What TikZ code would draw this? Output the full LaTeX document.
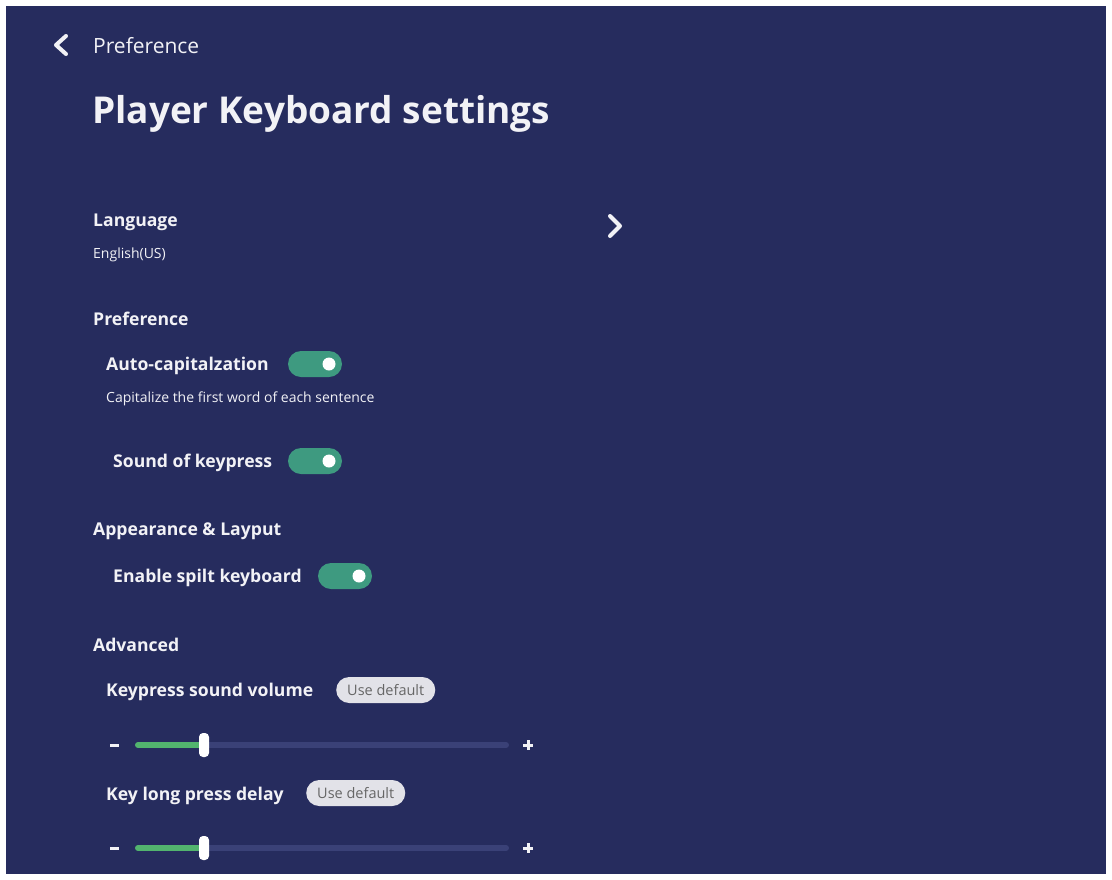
\documentclass[tikz,border=0pt]{standalone}
\usepackage{fontspec}
\setmainfont{Open Sans}
\definecolor{bg}{HTML}{262C5E}
\definecolor{tog}{HTML}{3E9A80}
\definecolor{sg}{HTML}{52B46E}
\definecolor{trk}{HTML}{3A4177}
\definecolor{btn}{HTML}{E2E2E8}
\definecolor{txt}{HTML}{F2F2F6}
\begin{document}
\begin{tikzpicture}[x=1pt,y=-1pt,
  lbl/.style={anchor=west,text=txt,font=\bfseries\fontsize{17.6}{20}\selectfont,inner sep=0},
  sm/.style={anchor=west,text=txt,font=\fontsize{14}{16}\selectfont,inner sep=0},
  btnbox/.style={fill=btn,rounded corners=13pt,minimum height=26pt,inner xsep=11pt,text=gray!80!black,font=\fontsize{14.5}{16}\selectfont,anchor=west}]
\useasboundingbox (0,0) rectangle (1112,879);
\fill[white] (0,0) rectangle (1112,879);
\fill[bg] (6,6) rectangle (1106,874);
\draw[txt,line width=4pt,line cap=round,line join=round] (66,36)--(56,45)--(66,54);
\node[sm,font=\fontsize{21}{24}\selectfont] (pref) at (93,46) {Preference};
\node[lbl,font=\bfseries\fontsize{37}{42}\selectfont] (title) at (92,114) {Player Keyboard settings};
\node[lbl] (lang) at (93,222) {Language};
\node[sm] (en) at (93,255) {English(US)};
\draw[txt,line width=4pt,line cap=round,line join=round] (610,216)--(620,226)--(610,236);
\node[lbl] (p2) at (93,319) {Preference};
\node[lbl] (ac) at (106,366) {Auto-capitalzation};
\node[sm] (cap) at (106,399) {Capitalize the first word of each sentence};
\node[lbl] (snd) at (113,463) {Sound of keypress};
\node[lbl] (app) at (93,531) {Appearance \& Layput};
\node[lbl] (spl) at (113,578) {Enable spilt keyboard};
\node[lbl] (adv) at (93,645) {Advanced};
\node[lbl] (ksv) at (106,692) {Keypress sound volume};
\node[btnbox] (b1) at (336,690) {Use default};
\node[lbl] (klp) at (106,796) {Key long press delay};
\node[btnbox] (b2) at (306,793) {Use default};
\foreach \x/\y in {288/364,288/461,318/576}{
  \fill[tog] (\x+13,\y-13) -- (\x+41,\y-13) arc(-90:90:13) -- (\x+13,\y+13) arc(90:270:13);
  \fill[white] (\x+41,\y) circle (6.5);
}
\foreach \y in {745,848}{
  \draw[txt,line width=3pt] (110,\y)--(119,\y);
  \draw[txt,line width=3pt] (523,\y)--(533,\y) (528,\y-5)--(528,\y+5);
  \draw[trk,line width=6pt,line cap=round] (140,\y)--(506,\y);
  \draw[sg,line width=6pt,line cap=round] (138,\y)--(200,\y);
  \fill[white,rounded corners=4pt] (199,\y-12) rectangle (209,\y+12);
}
\end{tikzpicture}
\end{document}
